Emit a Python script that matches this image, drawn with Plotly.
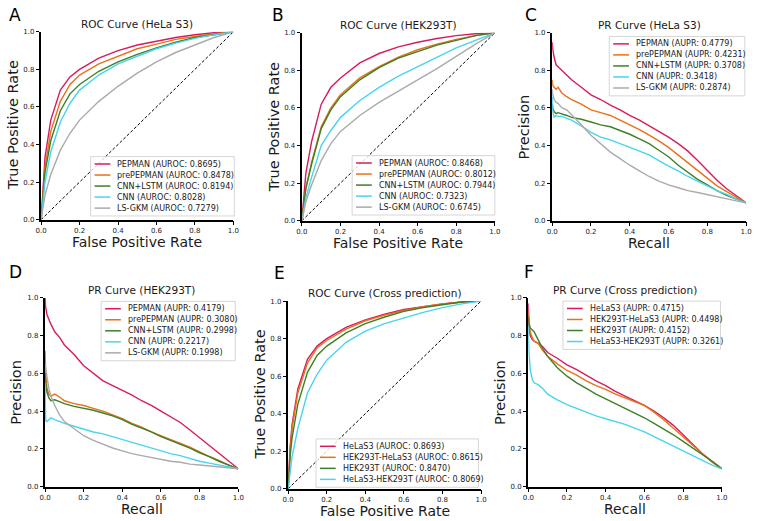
import plotly.graph_objects as go

W, H = 757, 521

# ---------------- data ----------------
FPR = [0, 0.01, 0.02, 0.05, 0.1, 0.15, 0.2, 0.3, 0.4, 0.5, 0.6, 0.7, 0.8, 0.9, 1.0]
REC = [0, 0.003, 0.01, 0.02, 0.03, 0.05, 0.075, 0.1, 0.15, 0.2, 0.25, 0.3, 0.35,
       0.4, 0.45, 0.5, 0.55, 0.6, 0.65, 0.7, 0.75, 0.8, 0.85, 0.9, 0.95, 1.0]

models = ["PEPMAN", "prePEPMAN", "CNN+LSTM", "CNN", "LS-GKM"]
cross_names = ["HeLaS3", "HEK293T-HeLaS3", "HEK293T", "HeLaS3-HEK293T"]

# A: ROC HeLa S3
a_auroc = [0.8695, 0.8478, 0.8194, 0.8028, 0.7279]
a_pepman = [0, 0.2, 0.33, 0.53, 0.69, 0.76, 0.80, 0.86, 0.90, 0.93, 0.95, 0.97, 0.985, 0.995, 1]
a_prepepman = [0, 0.17, 0.28, 0.47, 0.63, 0.72, 0.77, 0.83, 0.87, 0.91, 0.935, 0.96, 0.975, 0.99, 1]
a_cnnlstm = [0, 0.15, 0.25, 0.42, 0.58, 0.67, 0.72, 0.79, 0.84, 0.88, 0.915, 0.945, 0.97, 0.985, 1]
a_cnn = [0, 0.12, 0.2, 0.36, 0.52, 0.62, 0.69, 0.77, 0.83, 0.87, 0.91, 0.94, 0.965, 0.985, 1]
a_lsgkm = [0, 0.08, 0.13, 0.24, 0.37, 0.46, 0.53, 0.63, 0.71, 0.78, 0.84, 0.89, 0.93, 0.97, 1]

# B: ROC HEK293T
b_auroc = [0.8468, 0.8012, 0.7944, 0.7323, 0.6745]
b_pepman = [0, 0.15, 0.25, 0.42, 0.62, 0.71, 0.76, 0.84, 0.89, 0.925, 0.95, 0.97, 0.985, 0.995, 1]
b_prepepman = [0, 0.1, 0.17, 0.31, 0.5, 0.6, 0.67, 0.76, 0.82, 0.87, 0.91, 0.94, 0.965, 0.985, 1]
b_cnnlstm = [0, 0.1, 0.17, 0.3, 0.49, 0.59, 0.66, 0.75, 0.815, 0.865, 0.9, 0.935, 0.96, 0.985, 1]
b_cnn = [0, 0.07, 0.12, 0.23, 0.4, 0.48, 0.55, 0.64, 0.71, 0.77, 0.82, 0.87, 0.92, 0.96, 1]
b_lsgkm = [0, 0.06, 0.1, 0.19, 0.32, 0.41, 0.475, 0.56, 0.63, 0.69, 0.75, 0.81, 0.875, 0.94, 1]

# C: PR HeLa S3
c_aupr = [0.4779, 0.4231, 0.3708, 0.3418, 0.2874]
c_pepman = [0.95, 0.91, 0.87, 0.83, 0.82, 0.80, 0.77, 0.75, 0.71, 0.67, 0.645, 0.615, 0.59,
            0.56, 0.535, 0.505, 0.475, 0.445, 0.41, 0.37, 0.32, 0.265, 0.215, 0.17, 0.13, 0.095]
c_prepepman = [0.75, 0.72, 0.71, 0.70, 0.71, 0.68, 0.66, 0.645, 0.62, 0.59, 0.575, 0.56, 0.535,
               0.51, 0.485, 0.455, 0.425, 0.39, 0.35, 0.31, 0.265, 0.225, 0.185, 0.155, 0.125, 0.095]
c_cnnlstm = [0.62, 0.6, 0.58, 0.57, 0.575, 0.57, 0.56, 0.55, 0.54, 0.525, 0.51, 0.5, 0.48,
             0.46, 0.435, 0.41, 0.375, 0.34, 0.295, 0.255, 0.22, 0.19, 0.16, 0.135, 0.115, 0.095]
c_cnn = [0.66, 0.58, 0.55, 0.56, 0.555, 0.555, 0.545, 0.535, 0.505, 0.47, 0.445, 0.43, 0.41,
         0.39, 0.37, 0.35, 0.32, 0.29, 0.265, 0.235, 0.21, 0.185, 0.16, 0.14, 0.115, 0.095]
c_lsgkm = [0.7, 0.67, 0.645, 0.63, 0.625, 0.6, 0.59, 0.565, 0.51, 0.455, 0.41, 0.365, 0.33,
           0.295, 0.265, 0.235, 0.21, 0.19, 0.175, 0.16, 0.15, 0.138, 0.125, 0.115, 0.105, 0.095]

# D: PR HEK293T
d_aupr = [0.4179, 0.3080, 0.2998, 0.2217, 0.1998]
d_pepman = [1.0, 0.95, 0.91, 0.88, 0.86, 0.82, 0.79, 0.75, 0.70, 0.64, 0.60, 0.56, 0.535,
            0.51, 0.485, 0.455, 0.43, 0.40, 0.37, 0.34, 0.3, 0.26, 0.22, 0.18, 0.135, 0.095]
d_prepepman = [0.72, 0.6, 0.52, 0.49, 0.48, 0.49, 0.475, 0.455, 0.44, 0.43, 0.415, 0.4, 0.38,
               0.36, 0.335, 0.315, 0.29, 0.27, 0.25, 0.23, 0.21, 0.185, 0.16, 0.14, 0.115, 0.095]
d_cnnlstm = [0.6, 0.55, 0.5, 0.47, 0.455, 0.46, 0.45, 0.44, 0.425, 0.415, 0.405, 0.39, 0.375,
             0.355, 0.33, 0.31, 0.29, 0.265, 0.245, 0.225, 0.205, 0.18, 0.16, 0.135, 0.115, 0.095]
d_cnn = [0.55, 0.35, 0.345, 0.355, 0.365, 0.355, 0.345, 0.335, 0.32, 0.305, 0.29, 0.28, 0.265,
         0.25, 0.235, 0.22, 0.205, 0.19, 0.175, 0.165, 0.15, 0.135, 0.125, 0.115, 0.105, 0.095]
d_lsgkm = [0.65, 0.62, 0.58, 0.52, 0.48, 0.43, 0.38, 0.345, 0.305, 0.27, 0.245, 0.225, 0.205,
           0.19, 0.175, 0.165, 0.155, 0.145, 0.135, 0.13, 0.12, 0.115, 0.11, 0.105, 0.1, 0.095]

# E: ROC cross prediction
e_auroc = [0.8693, 0.8615, 0.8470, 0.8069]
e_helas3 = [0, 0.22, 0.34, 0.53, 0.69, 0.76, 0.80, 0.86, 0.90, 0.93, 0.955, 0.97, 0.985, 0.995, 1]
e_hek_hela = [0, 0.2, 0.32, 0.51, 0.67, 0.75, 0.79, 0.85, 0.895, 0.925, 0.95, 0.97, 0.985, 0.995, 1]
e_hek293t = [0, 0.17, 0.27, 0.45, 0.62, 0.71, 0.76, 0.83, 0.88, 0.915, 0.945, 0.965, 0.98, 0.995, 1]
e_hela_hek = [0, 0.1, 0.17, 0.32, 0.51, 0.61, 0.685, 0.78, 0.84, 0.88, 0.91, 0.94, 0.965, 0.985, 1]

# F: PR cross prediction
f_aupr = [0.4715, 0.4498, 0.4152, 0.3261]
f_helas3 = [0.97, 0.85, 0.8, 0.78, 0.77, 0.76, 0.74, 0.71, 0.68, 0.645, 0.62, 0.59, 0.56,
            0.535, 0.505, 0.48, 0.455, 0.43, 0.4, 0.365, 0.325, 0.275, 0.22, 0.175, 0.135, 0.095]
f_hek_hela = [0.93, 0.88, 0.82, 0.79, 0.77, 0.76, 0.72, 0.69, 0.65, 0.615, 0.59, 0.56, 0.535,
              0.515, 0.49, 0.47, 0.45, 0.43, 0.395, 0.355, 0.31, 0.265, 0.215, 0.17, 0.13, 0.095]
f_hek293t = [0.9, 0.86, 0.84, 0.83, 0.82, 0.78, 0.73, 0.69, 0.63, 0.585, 0.55, 0.52, 0.49,
             0.465, 0.44, 0.415, 0.39, 0.365, 0.335, 0.305, 0.275, 0.24, 0.205, 0.17, 0.135, 0.095]
f_hela_hek = [0.85, 0.72, 0.62, 0.57, 0.55, 0.54, 0.52, 0.49, 0.46, 0.435, 0.415, 0.395, 0.375,
              0.36, 0.345, 0.33, 0.31, 0.29, 0.265, 0.24, 0.215, 0.19, 0.165, 0.14, 0.115, 0.095]

panel_letters = ["A", "B", "C", "D", "E", "F"]
panel_titles = ["ROC Curve (HeLa S3)", "ROC Curve (HEK293T)", "PR Curve (HeLa S3)",
                "PR Curve (HEK293T)", "ROC Curve (Cross prediction)", "PR Curve (Cross prediction)"]
tick_vals = [0.0, 0.2, 0.4, 0.6, 0.8, 1.0]

# ---------------- style ----------------
COL5 = ["#d81b60", "#e8711a", "#3d7f28", "#48d4f0", "#aaaaaa"]
COL4 = ["#d81b60", "#e8711a", "#3d7f28", "#48d4f0"]
FONT = "DejaVu Sans"
TXT = "#1a1a1a"

# axes boxes in pixels: (x0, x1, ytop, ybottom)
boxes = [
    (35.7, 231.0, 28.3, 219.0),
    (300.7, 496.7, 29.3, 220.0),
    (555.0, 752.0, 29.3, 220.0),
    (39.7, 236.0, 298.3, 490.3),
    (286.7, 482.7, 301.7, 492.3),
    (530.7, 727.3, 298.3, 490.3),
]
letter_pos = [(9, 11), (276, 11), (533, 11), (10, 272.5), (277.5, 273), (531.7, 272.5)]
xtitles = ["False Positive Rate", "False Positive Rate", "Recall", "Recall", "False Positive Rate", "Recall"]
ytitles = ["True Positive Rate", "True Positive Rate", "Precision", "Precision", "True Positive Rate", "Precision"]
# legend boxes: (x0, ytop, x1)
legend_boxes = [(86, 155, 232), (351.7, 154, 496.7), (613, 33, 750.7),
                (96.7, 302, 233), (315, 441.7, 480), (566, 301.7, 726)]


def px(x):
    return x / W


def py(y):
    return 1 - y / H


fig = go.Figure()
layout = dict(
    width=W, height=H, margin=dict(l=0, r=0, t=0, b=0),
    paper_bgcolor="white", plot_bgcolor="white", showlegend=False,
    font=dict(family=FONT, color=TXT),
)
annotations = []
shapes = []

panel_series = [
    (FPR, [a_pepman, a_prepepman, a_cnnlstm, a_cnn, a_lsgkm], models, a_auroc, "AUROC", COL5, True),
    (FPR, [b_pepman, b_prepepman, b_cnnlstm, b_cnn, b_lsgkm], models, b_auroc, "AUROC", COL5, True),
    (REC, [c_pepman, c_prepepman, c_cnnlstm, c_cnn, c_lsgkm], models, c_aupr, "AUPR", COL5, False),
    (REC, [d_pepman, d_prepepman, d_cnnlstm, d_cnn, d_lsgkm], models, d_aupr, "AUPR", COL5, False),
    (FPR, [e_helas3, e_hek_hela, e_hek293t, e_hela_hek], cross_names, e_auroc, "AUROC", COL4, True),
    (REC, [f_helas3, f_hek_hela, f_hek293t, f_hela_hek], cross_names, f_aupr, "AUPR", COL4, False),
]

for i, (xs, series, names, scores, metric, cols, is_roc) in enumerate(panel_series):
    k = i + 1
    xa = "x" if k == 1 else f"x{k}"
    ya = "y" if k == 1 else f"y{k}"
    x0, x1, yt, yb = boxes[i]
    axis_common = dict(
        range=[0, 1], tickvals=tick_vals, ticktext=[f"{v:.1f}" for v in tick_vals],
        showgrid=False, zeroline=False, showline=True, linecolor="black", linewidth=1.5,
        ticks="outside", ticklen=3.5, tickwidth=1, tickcolor="black",
        tickfont=dict(family=FONT, size=7, color=TXT), fixedrange=True,
        ticklabeloverflow="allow",
    )
    layout["xaxis" if k == 1 else f"xaxis{k}"] = dict(
        axis_common, domain=[px(x0), px(x1)], anchor=ya)
    layout["yaxis" if k == 1 else f"yaxis{k}"] = dict(
        axis_common, domain=[py(yb), py(yt)], anchor=xa)

    if is_roc:
        fig.add_trace(go.Scatter(x=[0, 1], y=[0, 1], mode="lines", xaxis=xa, yaxis=ya,
                                 line=dict(color="black", width=1, dash="3px,2px"),
                                 hoverinfo="skip"))
    for name, ys, col in zip(names, series, cols):
        fig.add_trace(go.Scatter(x=xs, y=ys, mode="lines", name=name, xaxis=xa, yaxis=ya,
                                 line=dict(color=col, width=1.4)))

    # panel letter
    lx, ly = letter_pos[i]
    annotations.append(dict(text=panel_letters[i], x=px(lx), y=py(ly), xref="paper", yref="paper",
                            xanchor="center", yanchor="middle", showarrow=False,
                            font=dict(family=FONT, size=17, color="black")))
    # title
    annotations.append(dict(text=panel_titles[i], x=px((x0 + x1) / 2), y=py(yt - 8),
                            xref="paper", yref="paper", xanchor="center", yanchor="middle",
                            showarrow=False, font=dict(family=FONT, size=10.5, color=TXT)))
    # axis titles
    annotations.append(dict(text=xtitles[i], x=px((x0 + x1) / 2), y=py(yb + 23),
                            xref="paper", yref="paper", xanchor="center", yanchor="middle",
                            showarrow=False, font=dict(family=FONT, size=14, color=TXT)))
    annotations.append(dict(text=ytitles[i], x=px(x0 - 29), y=py((yt + yb) / 2), textangle=-90,
                            xref="paper", yref="paper", xanchor="center", yanchor="middle",
                            showarrow=False, font=dict(family=FONT, size=14.5, color=TXT)))

    # legend (drawn manually to match compact matplotlib spacing)
    bx0, byt, bx1 = legend_boxes[i]
    n = len(names)
    row0 = byt + 7.5
    step = 11.2
    byb = row0 + step * (n - 1) + 8
    shapes.append(dict(type="rect", xref="paper", yref="paper", x0=px(bx0), x1=px(bx1),
                       y0=py(byb), y1=py(byt), line=dict(color="#cccccc", width=0.8),
                       fillcolor="rgba(255,255,255,0.8)", layer="above"))
    for j, (name, sc, col) in enumerate(zip(names, scores, cols)):
        ry = row0 + step * j
        shapes.append(dict(type="line", xref="paper", yref="paper", x0=px(bx0 + 4), x1=px(bx0 + 20),
                           y0=py(ry), y1=py(ry), line=dict(color=col, width=1.5), layer="above"))
        annotations.append(dict(text=f"{name} ({metric}: {sc:.4f})", x=px(bx0 + 25), y=py(ry),
                                xref="paper", yref="paper", xanchor="left", yanchor="middle",
                                showarrow=False, font=dict(family=FONT, size=8, color=TXT)))

layout["annotations"] = annotations
layout["shapes"] = shapes
fig.update_layout(**layout)
fig.write_html("out.html", config={"displayModeBar": False},
               post_script="document.body.style.margin='0';document.body.style.overflow='hidden';")
